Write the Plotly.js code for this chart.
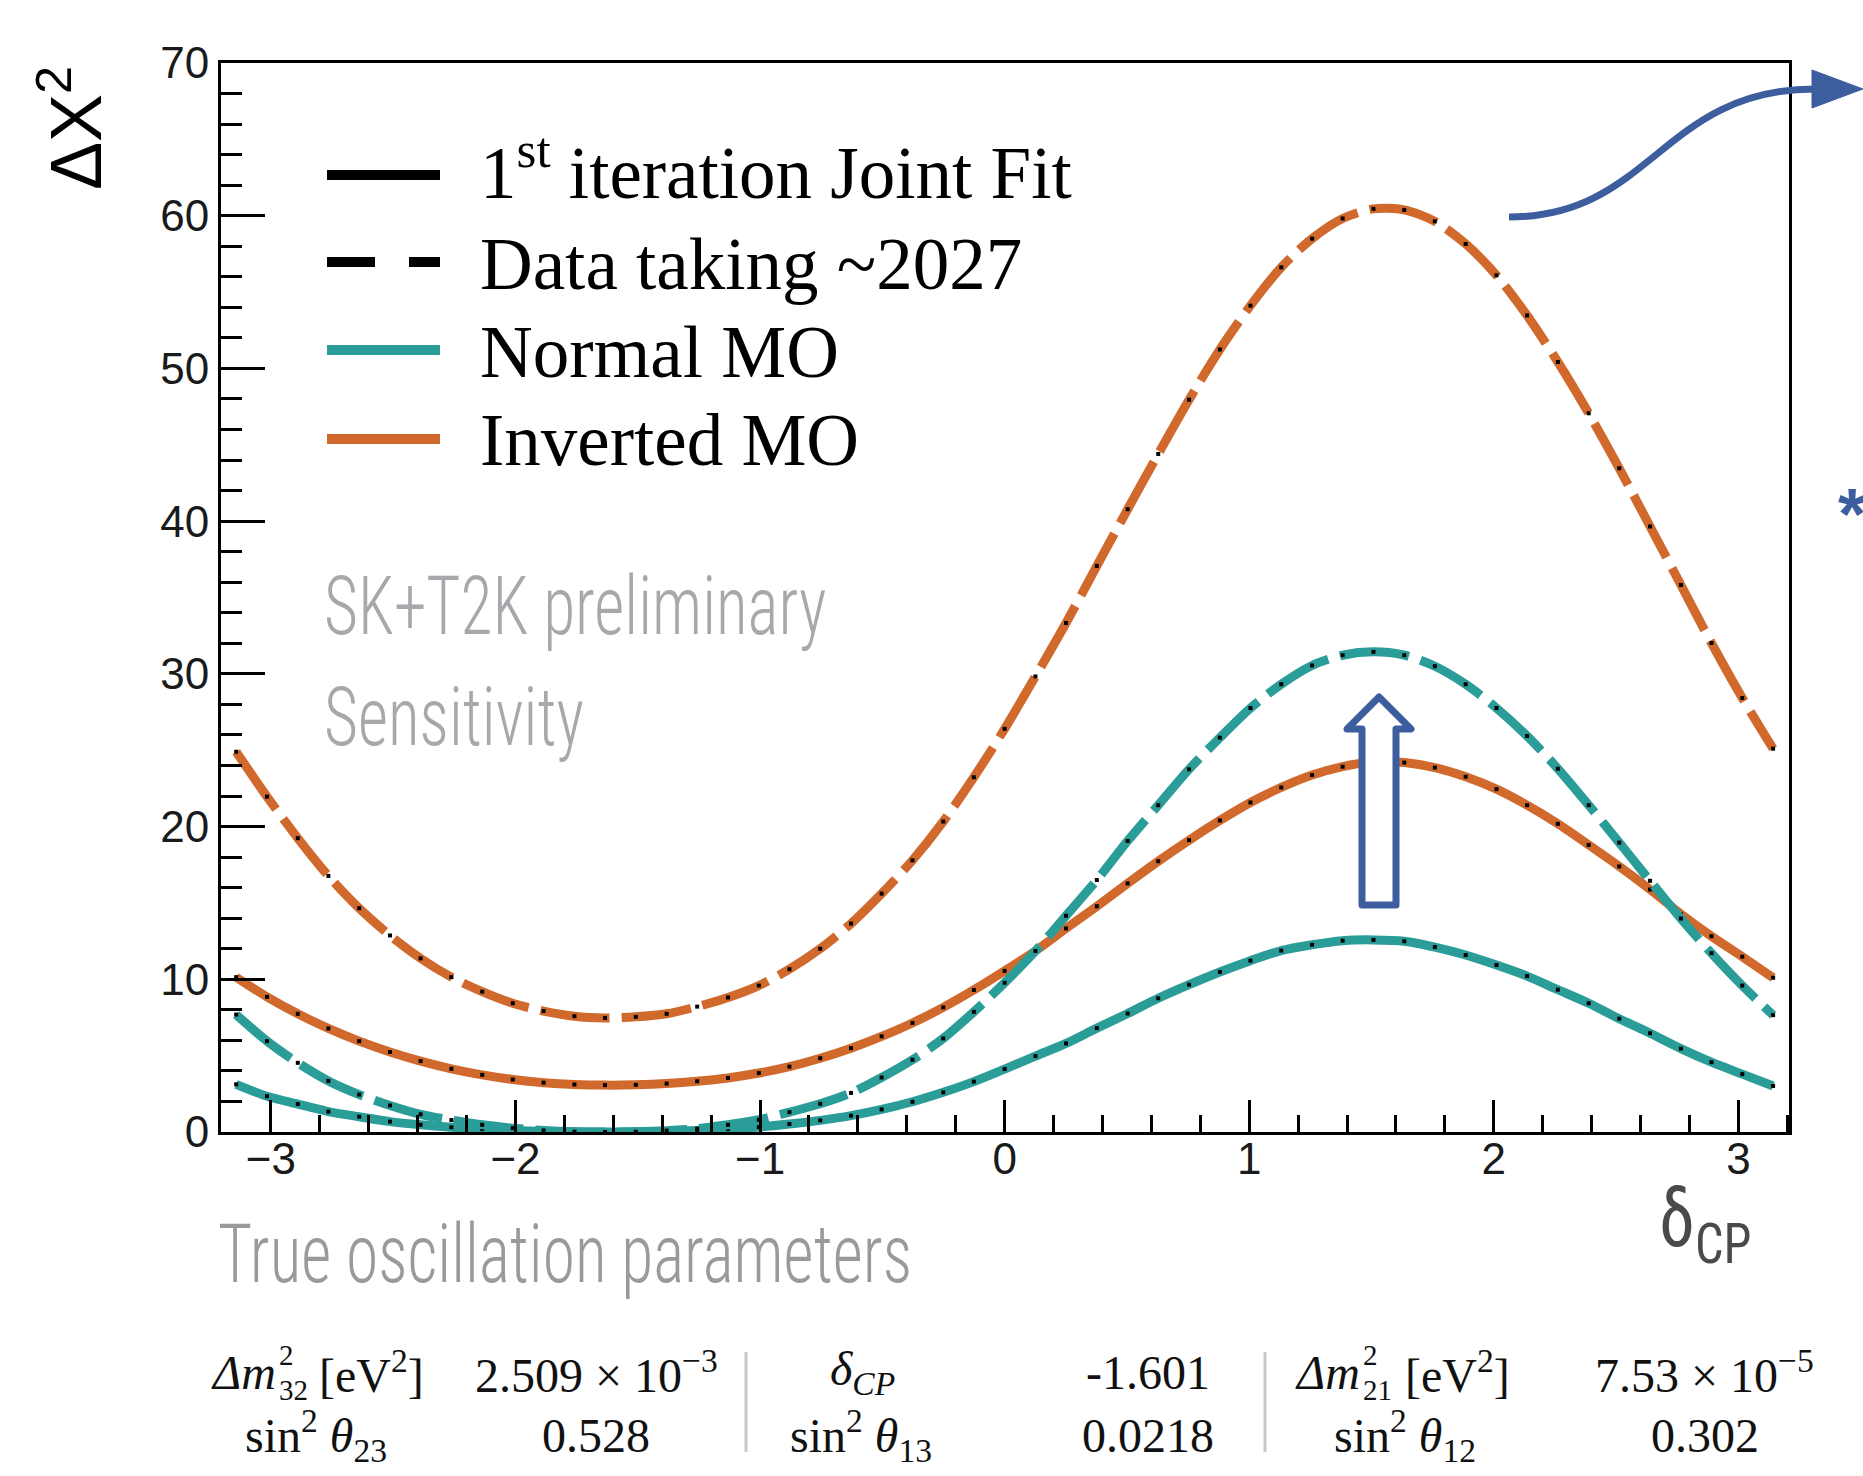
<!DOCTYPE html>
<html>
<head>
<meta charset="utf-8">
<script src="https://cdn.plot.ly/plotly-3.0.1.min.js"></script>
<style>
  html, body { margin: 0; padding: 0; background: #ffffff; }
  #chart { width: 1863px; height: 1476px; }
  .shapelayer path { stroke-linejoin: round; }
</style>
</head>
<body>
<div id="chart"></div>
<script>
// ---------------- data ----------------
const deltaCP = [-3.142, -3.016, -2.890, -2.765, -2.639, -2.513, -2.388, -2.262, -2.136, -2.011,
  -1.885, -1.759, -1.634, -1.508, -1.382, -1.257, -1.131, -1.005, -0.880, -0.754,
  -0.628, -0.503, -0.377, -0.251, -0.126, 0.000, 0.126, 0.251, 0.377, 0.503,
  0.628, 0.754, 0.880, 1.005, 1.131, 1.257, 1.382, 1.508, 1.634, 1.759,
  1.885, 2.011, 2.136, 2.262, 2.388, 2.513, 2.639, 2.765, 2.890, 3.016, 3.142];

// Inverted MO, data taking ~2027 (dashed orange)
const invertedMO_2027 = [24.9, 21.96, 19.24, 16.77, 14.65, 12.87, 11.37, 10.14, 9.19, 8.43,
  7.92, 7.58, 7.47, 7.54, 7.74, 8.21, 8.81, 9.59, 10.66, 12.00,
  13.65, 15.61, 17.79, 20.33, 23.23, 26.40, 29.83, 33.33, 37.07, 40.78,
  44.40, 47.95, 51.24, 54.11, 56.62, 58.50, 59.82, 60.45, 60.38, 59.63,
  58.15, 56.10, 53.47, 50.42, 47.06, 43.46, 39.65, 35.82, 32.02, 28.42, 25.1];

// Inverted MO, 1st iteration joint fit (solid orange)
const invertedMO_joint = [10.14, 8.85, 7.74, 6.78, 5.95, 5.24, 4.64, 4.14, 3.74, 3.44,
  3.23, 3.11, 3.07, 3.09, 3.17, 3.32, 3.54, 3.86, 4.28, 4.83,
  5.49, 6.26, 7.14, 8.16, 9.30, 10.55, 11.86, 13.33, 14.78, 16.28,
  17.73, 19.11, 20.40, 21.58, 22.56, 23.37, 23.92, 24.24, 24.19, 23.86,
  23.26, 22.45, 21.40, 20.18, 18.80, 17.39, 15.88, 14.27, 12.82, 11.48, 10.10];

// Normal MO, data taking ~2027 (dashed teal)
const normalMO_2027 = [7.69, 5.95, 4.53, 3.34, 2.45, 1.74, 1.16, 0.78, 0.47, 0.25,
  0.10, 0.02, 0.00, 0.02, 0.09, 0.22, 0.47, 0.80, 1.30, 1.85,
  2.56, 3.57, 4.73, 6.13, 7.87, 9.77, 11.85, 14.16, 16.50, 19.06,
  21.40, 23.75, 25.82, 27.76, 29.32, 30.55, 31.22, 31.44, 31.22, 30.50,
  29.32, 27.76, 25.93, 23.79, 21.40, 18.95, 16.45, 13.98, 11.71, 9.59, 7.65];

// Normal MO, 1st iteration joint fit (solid teal)
const normalMO_joint = [3.12, 2.34, 1.83, 1.34, 1.00, 0.68, 0.47, 0.31, 0.19, 0.10,
  0.04, 0.01, 0.00, 0.01, 0.04, 0.10, 0.19, 0.32, 0.52, 0.76,
  1.07, 1.48, 1.98, 2.60, 3.30, 4.12, 4.97, 5.80, 6.80, 7.76,
  8.76, 9.65, 10.48, 11.22, 11.88, 12.26, 12.53, 12.58, 12.49, 12.11,
  11.59, 10.93, 10.21, 9.32, 8.43, 7.42, 6.47, 5.46, 4.57, 3.79, 3.01];

const legendLabels = ['1<sup>st</sup> iteration Joint Fit', 'Data taking ~2027', 'Normal MO', 'Inverted MO'];
const xTickVals = [-3, -2, -1, 0, 1, 2, 3];
const yTickVals = [0, 10, 20, 30, 40, 50, 60, 70];

const paramRow1 = ['2.509 × 10<sup>−3</sup>', '<i>δ<sub>CP</sub></i>', '-1.601', '7.53 × 10<sup>−5</sup>'];
const paramRow2 = ['sin<sup>2</sup> <i>θ</i><sub>23</sub>', '0.528', 'sin<sup>2</sup> <i>θ</i><sub>13</sub>', '0.0218', 'sin<sup>2</sup> <i>θ</i><sub>12</sub>', '0.302'];

// ---------------- styling / geometry ----------------
const ORANGE = '#D0692B';
const TEAL = '#2B9D99';
const BLUE = '#3D5E9E';
const W = 1863, H = 1476;
const L = 221, R = 1789, T = 63, B = 1132;
const px = X => (X - L) / (R - L);
const py = Y => (B - Y) / (B - T);
const P = (X, Y) => px(X).toFixed(5) + ',' + py(Y).toFixed(5);

const serif = 'Liberation Serif, Times New Roman, serif';
const sans = 'Liberation Sans, Arial, Helvetica, sans-serif';
const cond = "'Roboto Condensed', Roboto, sans-serif";

function ann(X, Y, text, size, color, family, xanchor, extra) {
  return Object.assign({
    xref: 'paper', yref: 'paper', x: px(X), y: py(Y), text: text,
    showarrow: false, xanchor: xanchor || 'left', yanchor: 'middle',
    font: {size: size, color: color, family: family}
  }, extra || {});
}

const marker = {symbol: 'square', size: 4, color: '#000000'};
const traces = [
  {x: deltaCP, y: invertedMO_joint, mode: 'lines+markers', line: {color: ORANGE, width: 9, shape: 'spline', smoothing: 0.8}, marker: marker, cliponaxis: false, showlegend: false, name: 'Inverted MO, 1st iteration Joint Fit'},
  {x: deltaCP, y: normalMO_joint, mode: 'lines+markers', line: {color: TEAL, width: 9, shape: 'spline', smoothing: 0.8}, marker: marker, cliponaxis: false, showlegend: false, name: 'Normal MO, 1st iteration Joint Fit'},
  {x: deltaCP, y: normalMO_2027, mode: 'lines+markers', line: {color: TEAL, width: 9, dash: '70px,12px', shape: 'spline', smoothing: 0.8}, marker: marker, cliponaxis: false, showlegend: false, name: 'Normal MO, Data taking ~2027'},
  {x: deltaCP, y: invertedMO_2027, mode: 'lines+markers', line: {color: ORANGE, width: 9, dash: '70px,12px', shape: 'spline', smoothing: 0.8}, marker: marker, cliponaxis: false, showlegend: false, name: 'Inverted MO, Data taking ~2027'}
];

// legend rows
const legendY = [175, 262, 350, 439];
const legendTextDY = [-7, 2, 2, 2];
const legendStyles = [
  {color: '#000000', dash: 'solid'},
  {color: '#000000', dash: '48px,34px'},
  {color: TEAL, dash: 'solid'},
  {color: ORANGE, dash: 'solid'}
];

const shapes = [];
const annotations = [];

legendLabels.forEach((lab, i) => {
  shapes.push({type: 'line', xref: 'paper', yref: 'paper', x0: px(327), x1: px(440), y0: py(legendY[i]), y1: py(legendY[i]),
    line: {color: legendStyles[i].color, width: 10, dash: legendStyles[i].dash}});
  annotations.push(ann(478, legendY[i] + legendTextDY[i], lab, 73, '#000000', serif, 'left'));
});

// gray texts (condensed afterwards, see below)
const condensed = [];
function grayText(X, Y, text, color) {
  condensed.push([annotations.length, 0.8]);
  annotations.push(ann(X, Y, text, 82, color, cond, 'left', {font: {size: 82, color: color, family: cond, weight: 300}}));
}
grayText(322, 606, 'SK+T2K preliminary', '#A7A8AC');
grayText(322, 717, 'Sensitivity', '#A7A8AC');
grayText(216, 1254, 'True oscillation parameters', '#9A9A9C');

// axis titles
annotations.push(ann(71, 128, 'ΔΧ<sup>2</sup>', 72, '#000000', sans, 'center', {textangle: -90}));
condensed.push([annotations.length, 0.9]);
annotations.push(ann(1657, 1224, 'δ<sub>CP</sub>', 80, '#4A4A4A', cond, 'left'));

// blue decorations
shapes.push({type: 'path', xref: 'paper', yref: 'paper',
  path: 'M' + P(1509, 217) + ' C' + P(1652, 217) + ' ' + P(1662, 89) + ' ' + P(1815, 89),
  line: {color: BLUE, width: 7}, fillcolor: 'rgba(0,0,0,0)', layer: 'above'});
shapes.push({type: 'path', xref: 'paper', yref: 'paper',
  path: 'M' + P(1812, 70) + ' L' + P(1863, 89) + ' L' + P(1812, 108) + ' Z',
  line: {color: BLUE, width: 1}, fillcolor: BLUE, layer: 'above'});
shapes.push({type: 'path', xref: 'paper', yref: 'paper',
  path: 'M' + P(1379, 697) + ' L' + P(1411, 729) + ' L' + P(1396, 729) + ' L' + P(1396, 905) +
        ' L' + P(1362, 905) + ' L' + P(1362, 729) + ' L' + P(1347, 729) + ' Z',
  line: {color: BLUE, width: 7}, fillcolor: '#ffffff', layer: 'above'});
annotations.push(ann(1836, 514, '<b>*</b>', 72, BLUE, sans, 'left'));

// parameter table (stacked super/subscripts placed as separate small texts)
const r1 = 1372, r2 = 1435;
const tight = {borderpad: 0};
annotations.push(ann(277, r1, '<i>Δm</i>', 48, '#111111', serif, 'right', tight));
annotations.push(ann(278, r1, '2', 29, '#111111', serif, 'left', {yanchor: 'bottom', borderpad: 0}));
annotations.push(ann(278, r1 + 1, '32', 29, '#111111', serif, 'left', {yanchor: 'top', borderpad: 0}));
annotations.push(ann(318, r1, '[eV<sup>2</sup>]', 48, '#111111', serif, 'left', tight));
annotations.push(ann(596, r1, paramRow1[0], 48, '#111111', serif, 'center', tight));
annotations.push(ann(862, r1, paramRow1[1], 48, '#111111', serif, 'center', tight));
annotations.push(ann(1148, r1, paramRow1[2], 48, '#111111', serif, 'center', tight));
annotations.push(ann(1361, r1, '<i>Δm</i>', 48, '#111111', serif, 'right', tight));
annotations.push(ann(1362, r1, '2', 29, '#111111', serif, 'left', {yanchor: 'bottom', borderpad: 0}));
annotations.push(ann(1362, r1 + 1, '21', 29, '#111111', serif, 'left', {yanchor: 'top', borderpad: 0}));
annotations.push(ann(1404, r1, '[eV<sup>2</sup>]', 48, '#111111', serif, 'left', tight));
annotations.push(ann(1704, r1, paramRow1[3], 48, '#111111', serif, 'center', tight));
const row2X = [316, 596, 861, 1148, 1405, 1705];
paramRow2.forEach((t, i) => annotations.push(ann(row2X[i], r2, t, 48, '#111111', serif, 'center', tight)));
[746, 1265].forEach(X => shapes.push({type: 'line', xref: 'paper', yref: 'paper', x0: px(X), x1: px(X), y0: py(1352), y1: py(1452), line: {color: '#C8C8C8', width: 3}}));

const layout = {
  width: W, height: H,
  margin: {l: L, r: W - R, t: T, b: H - B, pad: 0},
  paper_bgcolor: '#ffffff', plot_bgcolor: '#ffffff',
  showlegend: false,
  xaxis: {
    range: [-3.204, 3.207], tickvals: xTickVals, ticks: 'inside', ticklen: 32, tickwidth: 3, tickcolor: '#000',
    ticklabelstandoff: -14,
    showline: true, linewidth: 3, linecolor: '#000', mirror: true, showgrid: false, zeroline: false,
    tickfont: {family: sans, size: 44, color: '#1a1a1a'},
    minor: {dtick: 0.2, tick0: 0, ticks: 'inside', ticklen: 17, tickwidth: 3, tickcolor: '#000', showgrid: false}
  },
  yaxis: {
    range: [0, 70], tickvals: yTickVals, ticks: 'inside', ticklen: 44, tickwidth: 3, tickcolor: '#000',
    showline: true, linewidth: 3, linecolor: '#000', mirror: true, showgrid: false, zeroline: false,
    tickfont: {family: sans, size: 44, color: '#1a1a1a'},
    minor: {dtick: 2, tick0: 0, ticks: 'inside', ticklen: 21, tickwidth: 3, tickcolor: '#000', showgrid: false}
  },
  shapes: shapes,
  annotations: annotations
};

Plotly.newPlot('chart', traces, layout, {staticPlot: true, displayModeBar: false}).then(gd => {
  // narrow the condensed-style texts horizontally about their left edge
  const groups = gd.querySelectorAll('.annotation');
  condensed.forEach(([i, sx]) => {
    const g = groups[i];
    if (!g) return;
    const t = g.querySelector('text.annotation-text');
    if (!t) return;
    const bb = t.getBBox();
    const x0 = bb.x;
    const prev = t.getAttribute('transform') || '';
    t.setAttribute('transform', prev + ' translate(' + x0 + ',0) scale(' + sx + ',1) translate(' + (-x0) + ',0)');
  });
});
</script>
</body>
</html>
